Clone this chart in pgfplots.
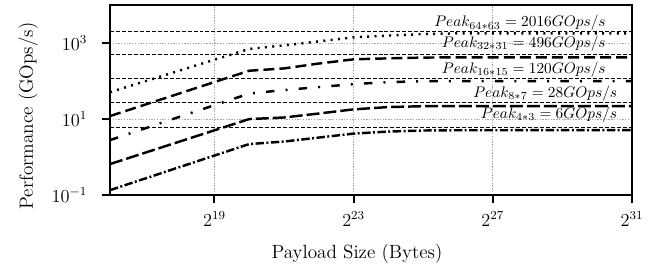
\documentclass[border=0pt]{standalone}
\usepackage{pgfplots}
\pgfplotsset{compat=1.18}
\begin{document}
\begin{tikzpicture}
\begin{axis}[
  scale only axis,
  width=341.2pt, height=124.2pt,
  xmode=log, ymode=log,
  log basis x=2, log basis y=10,
  xmin=65536, xmax=2147483648,
  ymin=0.1, ymax=10000,
  xtick={524288,8388608,134217728,2147483648},
  ytick={0.1,10,1000},
  xminorticks=false, yminorticks=false,
  tick align=outside, tick pos=left,
  major tick length=5.5pt,
  every tick/.style={black, line width=1.4pt},
  axis line style={line width=1.4pt},
  grid=major,
  major grid style={gray!70, line width=0.6pt, dash pattern=on 0.9pt off 0.9pt},
  tick label style={font=\fontsize{12}{14}\selectfont},
  yticklabel style={xshift=-6pt},
  xticklabel style={yshift=-2pt},
  label style={font=\fontsize{12.5}{15}\selectfont},
  xlabel={Payload Size (Bytes)},
  ylabel={Performance (GOps/s)},
  xlabel style={at={(axis description cs:0.473,-0.3333)}, anchor=base},
  ylabel style={at={(axis description cs:-0.1476,0.416)}, anchor=base},
  clip=true,
]
% peak lines
\addplot[black, line width=0.6pt, dash pattern=on 2.6pt off 1.3pt] coordinates {(65536,2016) (2147483648,2016)};
\addplot[black, line width=0.6pt, dash pattern=on 2.6pt off 1.3pt] coordinates {(65536,496) (2147483648,496)};
\addplot[black, line width=0.6pt, dash pattern=on 2.6pt off 1.3pt] coordinates {(65536,120) (2147483648,120)};
\addplot[black, line width=0.6pt, dash pattern=on 2.6pt off 1.3pt] coordinates {(65536,28) (2147483648,28)};
\addplot[black, line width=0.6pt, dash pattern=on 2.6pt off 1.3pt] coordinates {(65536,6) (2147483648,6)};
% 64*63 dotted
\addplot[black, line width=1.6pt, dash pattern=on 1.3pt off 3.5pt] coordinates {
(65536,51) (1048576,700) (2097152,869) (4194304,1108) (8388608,1413) (16777216,1575) (33554432,1725) (67108864,1800) (2147483648,1800)};
% 32*31 dashed
\addplot[black, line width=1.6pt, dash pattern=on 7.2pt off 3.3pt] coordinates {
(65536,12) (1048576,187) (2097152,215) (4194304,289) (8388608,373) (16777216,396) (33554432,415) (67108864,421) (2147483648,421)};
% 16*15 sparse dash-dot
\addplot[black, line width=1.6pt, dash pattern=on 5.5pt off 7.3pt on 1.3pt off 7.3pt] coordinates {
(65536,2.8) (1048576,46.9) (2097152,58) (4194304,69.5) (8388608,83) (16777216,94) (33554432,99) (67108864,100) (2147483648,100)};
% 8*7 long dash
\addplot[black, line width=1.6pt, dash pattern=on 8.5pt off 2.6pt] coordinates {
(65536,0.655) (1048576,10) (2097152,11) (4194304,14) (8388608,18) (16777216,20.7) (33554432,21.8) (67108864,22) (2147483648,22)};
% 4*3 dash-dot
\addplot[black, line width=1.6pt, dash pattern=on 5.5pt off 1.6pt on 1.3pt off 1.6pt] coordinates {
(65536,0.135) (1048576,2.2) (2097152,2.56) (4194304,3.26) (8388608,4.15) (16777216,4.69) (33554432,5.0) (67108864,5.08) (2147483648,5.1)};
% labels
\node[anchor=base east, inner sep=0pt, font=\fontsize{10}{12}\selectfont] at (rel axis cs:0.950,0.886) {$Peak_{64*63} = 2016GOps/s$};
\node[anchor=base east, inner sep=0pt, font=\fontsize{10}{12}\selectfont] at (rel axis cs:0.950,0.776) {$Peak_{32*31} = 496GOps/s$};
\node[anchor=base east, inner sep=0pt, font=\fontsize{10}{12}\selectfont] at (rel axis cs:0.950,0.642) {$Peak_{16*15} = 120GOps/s$};
\node[anchor=base east, inner sep=0pt, font=\fontsize{10}{12}\selectfont] at (rel axis cs:0.972,0.513) {$Peak_{8*7} = 28GOps/s$};
\node[anchor=base east, inner sep=0pt, font=\fontsize{10}{12}\selectfont] at (rel axis cs:0.972,0.405) {$Peak_{4*3} = 6GOps/s$};
\coordinate (SW) at (rel axis cs:0,0);
\coordinate (NE) at (rel axis cs:1,1);
\end{axis}
\pgfresetboundingbox
\path ([xshift=-71.9pt,yshift=-49.0pt]SW) rectangle ([xshift=13.7pt,yshift=3.3pt]NE);
\end{tikzpicture}
\end{document}
